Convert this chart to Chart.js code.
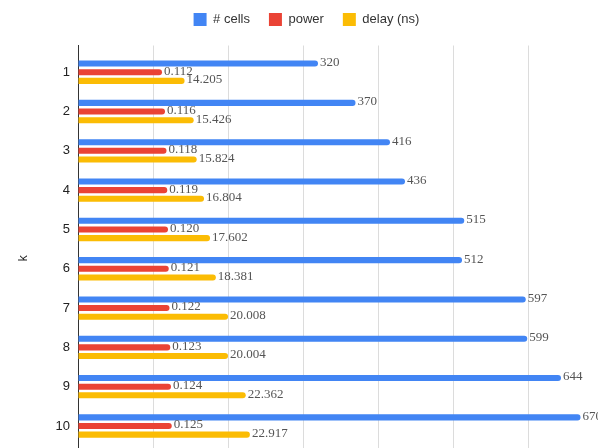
<!DOCTYPE html>
<html>
<head>
<meta charset="utf-8">
<script src="https://cdn.jsdelivr.net/npm/chart.js@4"></script>
<style>
html, body { margin: 0; padding: 0; background: #fff; overflow: hidden; }
#wrap { width: 598px; height: 448px; overflow: hidden; position: relative; }
#box { width: 603px; height: 479px; position: absolute; left: 0; top: 0; }
</style>
</head>
<body>
<div id="wrap"><div id="box"><canvas id="chart"></canvas></div></div>
<script>
// k values (categories)
const categories = [1, 2, 3, 4, 5, 6, 7, 8, 9, 10];
const cells = [320, 370, 416, 436, 515, 512, 597, 599, 644, 670];
const power = [0.112, 0.116, 0.118, 0.119, 0.120, 0.121, 0.122, 0.123, 0.124, 0.125];
const delay = [14.205, 15.426, 15.824, 16.804, 17.602, 18.381, 20.008, 20.004, 22.362, 22.917];
const seriesNames = ['# cells', 'power', 'delay (ns)'];
const xTicks = [0, 100, 200, 300, 400, 500, 600, 700];

// the source chart shares one axis: power is drawn x1000, delay x10
const powerScale = 1000;
const delayScale = 10;

function points(values, factor) {
  return categories.map((k, i) => ({ x: values[i] * factor, y: k }));
}

const valueLabels = {
  id: 'valueLabels',
  afterDatasetsDraw(chart) {
    const ctx = chart.ctx;
    ctx.save();
    ctx.font = '13px "Liberation Serif", "Times New Roman", serif';
    ctx.fillStyle = '#555';
    ctx.textBaseline = 'middle';
    chart.data.datasets.forEach((ds, di) => {
      chart.getDatasetMeta(di).data.forEach((bar, i) => {
        ctx.fillText(ds.valueText[i], bar.x + 2, bar.y - 1);
      });
    });
    ctx.restore();
  }
};

new Chart(document.getElementById('chart'), {
  type: 'bar',
  data: {
    datasets: [
      {
        label: seriesNames[0],
        data: points(cells, 1),
        valueText: cells.map(v => String(v)),
        backgroundColor: '#4285F4'
      },
      {
        label: seriesNames[1],
        data: points(power, powerScale),
        valueText: power.map(v => v.toFixed(3)),
        backgroundColor: '#EA4335'
      },
      {
        label: seriesNames[2],
        data: points(delay, delayScale),
        valueText: delay.map(v => v.toFixed(3)),
        backgroundColor: '#FBBC04'
      }
    ]
  },
  options: {
    indexAxis: 'y',
    responsive: true,
    maintainAspectRatio: false,
    animation: false,
    categoryPercentage: 0.66,
    barPercentage: 0.7,
    borderRadius: 3,
    borderSkipped: 'start',
    layout: { padding: { top: -6, right: 0, bottom: 0, left: 10 } },
    plugins: {
      tooltip: { enabled: false },
      legend: {
        position: 'top',
        align: 'center',
        labels: {
          boxWidth: 13,
          boxHeight: 13,
          padding: 19,
          color: '#333',
          font: { family: '"Liberation Sans", Arial, sans-serif', size: 13 }
        }
      }
    },
    scales: {
      x: {
        type: 'linear',
        min: xTicks[0],
        max: xTicks[xTicks.length - 1],
        afterBuildTicks(scale) { scale.ticks = xTicks.map(v => ({ value: v })); },
        ticks: { display: false },
        grid: { color: '#dcdcdc', drawTicks: false, offset: false },
        border: { display: false }
      },
      // empty band between legend and plot
      gap: {
        type: 'linear',
        axis: 'x',
        position: 'top',
        afterFit(scale) { scale.height = 9.5; },
        ticks: { display: false },
        grid: { display: false },
        border: { display: false }
      },
      y: {
        type: 'linear',
        reverse: true,
        offset: false,
        min: 0.32,
        max: 11.15,
        afterBuildTicks(scale) { scale.ticks = categories.map(v => ({ value: v })); },
        afterFit(scale) { scale.width = 68; },
        ticks: {
          color: '#222',
          padding: 0,
          font: { family: '"Liberation Sans", Arial, sans-serif', size: 13 }
        },
        grid: { display: false, offset: false },
        border: { display: true, color: '#333', width: 1 },
        title: {
          display: true,
          text: 'k',
          color: '#222',
          padding: { top: 6, bottom: 0 },
          font: { family: '"Liberation Sans", Arial, sans-serif', size: 12 }
        }
      }
    }
  },
  plugins: [valueLabels]
});
</script>
</body>
</html>
